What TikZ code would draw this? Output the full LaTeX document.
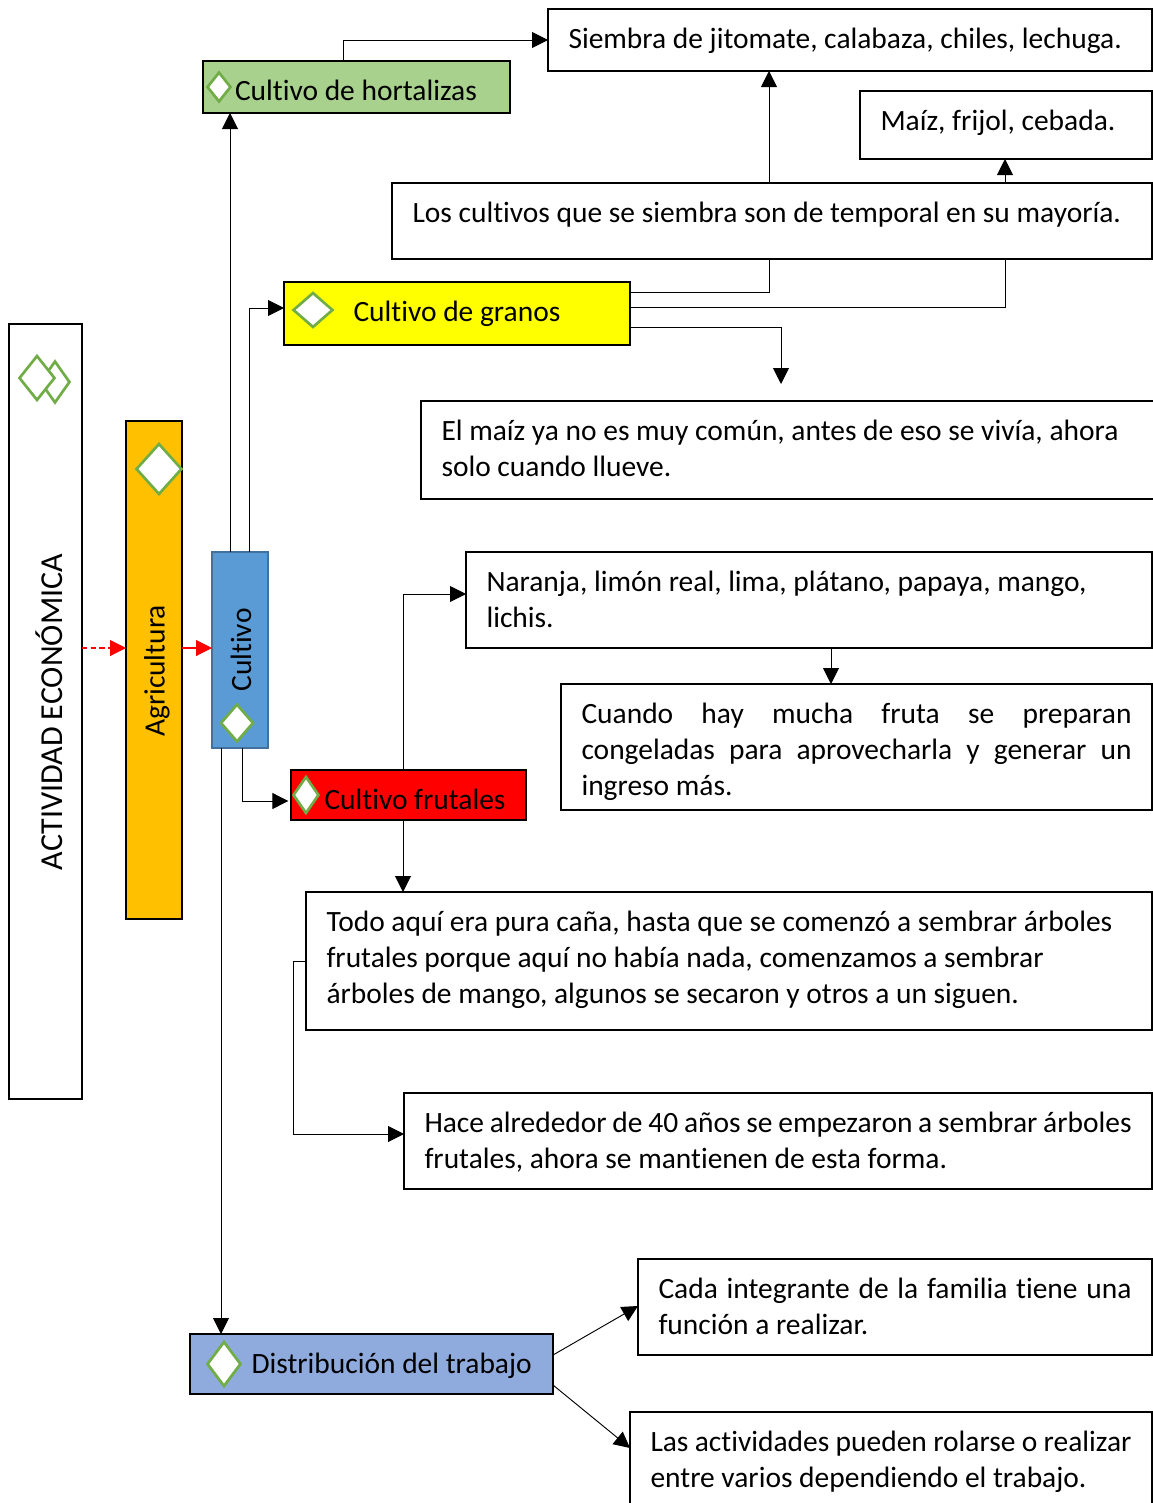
\documentclass[tikz,border=0pt]{standalone}
\usepackage{fontspec}
\setmainfont{Carlito}[Ligatures=CommonOff]
\usetikzlibrary{arrows.meta, shapes.geometric}

\definecolor{gemgreen}{HTML}{70AD47}
\definecolor{hortgreen}{HTML}{A9D18E}
\definecolor{agriorange}{HTML}{FFC000}
\definecolor{cultblue}{HTML}{5B9BD5}
\definecolor{cultedge}{HTML}{41719C}
\definecolor{trabblue}{HTML}{8FAADC}
\definecolor{granyellow}{HTML}{FFFF00}
\definecolor{frutred}{HTML}{FF0000}

\newdimen\pxu
\pxu=0.75pt
\newcommand{\boxtext}[3]{\parbox[c][\dimexpr#2\pxu-24\pxu\relax][t]{\dimexpr#1\pxu-41\pxu\relax}{\vspace*{7\pxu}#3}}

\tikzset{
    txtbox/.style={draw=black, line width=1.5pt, fill=white, anchor=north west, inner xsep=20.5\pxu, inner ysep=12\pxu, outer sep=0pt},
    barbox/.style={draw=black, line width=1.2pt, inner sep=0pt, outer sep=0pt},
    rottext/.style={rotate=90, inner sep=0pt},
    gem/.style={diamond, draw=gemgreen, fill=white, line width=2pt, inner sep=0pt},
    link/.style={draw=black, line width=0.7pt},
    linkto/.style={link, -{Triangle[length=12pt,width=12pt]}},
    redto/.style={draw=frutred, line width=0.8pt, -{Triangle[length=12pt,width=12pt]}}
}

\begin{document}
\begin{tikzpicture}[x=0.75pt, y=-0.75pt, font=\fontsize{22.1}{27}\selectfont]
    \useasboundingbox (0,0) rectangle (1153,1503);

    % left column
    \node[barbox, line width=2.2pt, fill=white, minimum width=73\pxu, minimum height=775\pxu] (actividad) at (45.5,711.5) {};
    \node[barbox, fill=agriorange, minimum width=56\pxu, minimum height=498\pxu] (agri) at (154,670) {};
    \node[barbox, draw=cultedge, line width=1.8pt, fill=cultblue, minimum width=56\pxu, minimum height=196\pxu] (cultivo) at (240,650) {};
    \node[rottext, font=\fontsize{24}{29}\selectfont] (actividadtxt) at (49,712) {ACTIVIDAD ECONÓMICA};
    \node[rottext] (agritxt) at (157,671) {Agricultura};
    \node[rottext] (cultivotxt) at (241,650) {Cultivo};

    % boxes
    \node[txtbox] (siembra) at (548,9) {\boxtext{604}{62}{Siembra de jitomate, calabaza, chiles, lechuga.}};
    \node[txtbox] (maiz) at (860,91) {\boxtext{292}{68}{Maíz, frijol, cebada.}};
    \node[txtbox] (temporal) at (392,183) {\boxtext{760}{76}{Los cultivos que se siembra son de temporal en su mayoría.}};
    \node[txtbox] (elmaiz) at (421,401) {\boxtext{760}{98}{El maíz ya no es muy común, antes de eso se vivía, ahora\\ solo cuando llueve.}};
    \node[txtbox] (naranja) at (466,552) {\boxtext{686}{96}{Naranja, limón real, lima, plátano, papaya, mango,\\ lichis.}};
    \node[txtbox] (cuando) at (561,684) {\boxtext{591}{126}{Cuando hay mucha fruta se preparan\linebreak congeladas para aprovecharla y generar un\linebreak ingreso más.}};
    \node[txtbox] (todo) at (306,892) {\boxtext{846}{138}{Todo aquí era pura caña, hasta que se comenzó a sembrar árboles\\ frutales porque aquí no había nada, comenzamos a sembrar\\ árboles de mango, algunos se secaron y otros a un siguen.}};
    \node[txtbox] (hace) at (404,1093) {\boxtext{748}{96}{Hace alrededor de 40 años se empezaron a sembrar árboles\\ frutales, ahora se mantienen de esta forma.}};
    \node[txtbox] (cada) at (638,1259) {\boxtext{514}{96}{Cada integrante de la familia tiene una\linebreak función a realizar.}};
    \node[txtbox] (actividades) at (630,1412) {\boxtext{522}{120}{Las actividades pueden rolarse o realizar\\ entre varios dependiendo el trabajo.}};

    % coloured titles
    \node[txtbox, fill=hortgreen, line width=1.2pt] (hort) at (203,61) {\boxtext{307}{52}{\hspace*{11.5\pxu}Cultivo de hortalizas}};
    \node[txtbox, fill=granyellow, line width=1.2pt] (granos) at (284,282) {\boxtext{346}{63}{\hspace*{49\pxu}Cultivo de granos}};
    \node[txtbox, fill=frutred, line width=1.2pt] (frutales) at (291,770) {\boxtext{235}{50}{\hspace*{13\pxu}Cultivo frutales}};
    \node[txtbox, fill=trabblue, line width=1.2pt] (trabajo) at (190,1334) {\boxtext{363}{60}{\hspace*{41\pxu}Distribución del trabajo}};

    % diamonds
    \node[gem, minimum width=30\pxu, minimum height=42\pxu] (gema) at (55,382) {};
    \node[gem, minimum width=36\pxu, minimum height=45\pxu] (gemb) at (37,378) {};
    \node[gem, minimum width=46\pxu, minimum height=51\pxu] (gemc) at (159,469) {};
    \node[gem, minimum width=33\pxu, minimum height=38\pxu] (gemd) at (237,723) {};
    \node[gem, minimum width=24\pxu, minimum height=30\pxu] (geme) at (219,87) {};
    \node[gem, minimum width=40\pxu, minimum height=35\pxu] (gemf) at (313,310) {};
    \node[gem, minimum width=26\pxu, minimum height=37\pxu] (gemg) at (306,795) {};
    \node[gem, minimum width=34\pxu, minimum height=45\pxu] (gemh) at (224,1364) {};

    % connectors
    \coordinate (granoend) at (781,384);
    \draw[redto, dash pattern=on 4pt off 2.5pt] (actividad.east |- 0,648) -- (agri.west |- 0,648);
    \draw[redto] (agri.east |- 0,648) -- (cultivo.west |- 0,648);
    \draw[linkto] (230,0 |- cultivo.north) -- (230,0 |- hort.south);
    \draw[linkto] (249,0 |- cultivo.north) |- (granos.west |- 0,308);
    \draw[linkto] (343,0 |- hort.north) |- (siembra.west |- 0,40);
    \draw[linkto] (769,0 |- temporal.north) -- (769,0 |- siembra.south);
    \draw[linkto] (1005,0 |- temporal.north) -- (1005,0 |- maiz.south);
    \draw[link] (granos.east |- 0,292) -| (769,0 |- temporal.south);
    \draw[link] (granos.east |- 0,307) -| (1005,0 |- temporal.south);
    \draw[linkto] (granos.east |- 0,327) -| (granoend);
    \draw[linkto] (403,0 |- frutales.north) |- (naranja.west |- 0,594);
    \draw[linkto] (831,0 |- naranja.south) -- (831,0 |- cuando.north);
    \draw[linkto, shorten >=2pt] (242,0 |- cultivo.south) |- (frutales.west |- 0,801);
    \draw[linkto] (403,0 |- frutales.south) -- (403,0 |- todo.north);
    \draw[linkto] (221,0 |- cultivo.south) -- (221,0 |- trabajo.north);
    \draw[linkto] (todo.west |- 0,961) -- ++(-13,0) |- (hace.west |- 0,1134);
    \draw[linkto] (trabajo.east |- 0,1355) -- (cada.west |- 0,1306);
    \draw[linkto] (trabajo.east |- 0,1385) -- (actividades.west |- 0,1448);
\end{tikzpicture}
\end{document}
